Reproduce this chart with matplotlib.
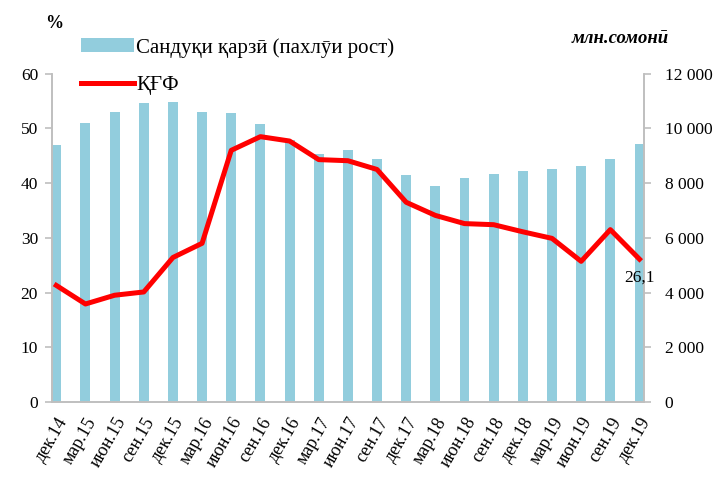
import matplotlib.pyplot as plt
from matplotlib.patches import Patch
from matplotlib.lines import Line2D

plt.rcParams['font.family'] = ['Liberation Serif', 'DejaVu Serif']

# quarters
quarters = ['дек.14', 'мар.15', 'июн.15', 'сен.15', 'дек.15', 'мар.16', 'июн.16',
            'сен.16', 'дек.16', 'мар.17', 'июн.17', 'сен.17', 'дек.17', 'мар.18',
            'июн.18', 'сен.18', 'дек.18', 'мар.19', 'июн.19', 'сен.19', 'дек.19']

# loan portfolio, mln somoni (right axis)
loans = [9400, 10200, 10600, 10930, 10950, 10610, 10550, 10180, 9590, 9070, 9220,
         8890, 8300, 7900, 8170, 8330, 8430, 8520, 8610, 8890, 9440]

# NPL share, % (left axis)
npl = [21.3, 17.9, 19.5, 20.1, 26.4, 29.0, 46.0, 48.5, 47.7, 44.3, 44.1,
       42.5, 36.5, 34.1, 32.6, 32.4, 31.1, 29.9, 25.7, 31.5, 26.1]

bar_color = '#92CDDD'
grey = '#BFBFBF'

fig = plt.figure(figsize=(7.21, 4.79), dpi=100)
ax = fig.add_axes([0.072, 0.161, 0.821, 0.685])
ax2 = ax.twinx()

x = list(range(len(quarters)))
ax2.bar(x, loans, width=0.34, color=bar_color, zorder=1)
ax.plot(x, npl, color='#FF0000', lw=3.6, zorder=3)
ax.set_zorder(ax2.get_zorder() + 1)
ax.patch.set_visible(False)

ax.set_xlim(-0.15, 20.15)
ax.set_ylim(0, 60)
ax2.set_ylim(0, 12000)
ax.set_yticks(range(0, 61, 10))
ax2.set_yticks(range(0, 12001, 2000))
ax2.set_yticklabels([f'{v:,}'.replace(',', ' ') for v in range(0, 12001, 2000)])

ax.set_xticks(x)
ax.set_xticklabels(quarters, rotation=60, ha='right', rotation_mode='anchor')

for a in (ax, ax2):
    a.spines['top'].set_visible(False)
    for s in ('left', 'right', 'bottom'):
        a.spines[s].set_color(grey)
        a.spines[s].set_linewidth(1.2)
    a.tick_params(labelsize=12.5, color=grey, length=5, width=1.2)
ax.tick_params(axis='x', length=0, pad=9, labelsize=13)
ax.tick_params(axis='y', pad=5)
ax2.tick_params(axis='y', pad=10)

ax.annotate('26,1', (20, npl[-1]), xytext=(0, -13), textcoords='offset points',
            ha='center', va='center', fontsize=12.5)

fig.text(0.062, 0.95, '%', fontsize=13, fontweight='bold', ha='left', va='center')
fig.text(0.927, 0.919, 'млн.сомонӣ', fontsize=13.5, fontweight='bold', style='italic',
         ha='right', va='center')

handles = [Patch(facecolor=bar_color, edgecolor='none'),
           Line2D([], [], color='#FF0000', lw=3.6)]
fig.legend(handles, ['Сандуқи қарзӣ (пахлӯи рост)', 'ҚҒФ'],
           loc='upper left', bbox_to_anchor=(0.113, 0.921), frameon=False,
           fontsize=15, handlelength=2.5, handleheight=0.65, handletextpad=0.13,
           labelspacing=0.87, borderaxespad=0, borderpad=0)

fig.savefig('out.png', dpi=100)
